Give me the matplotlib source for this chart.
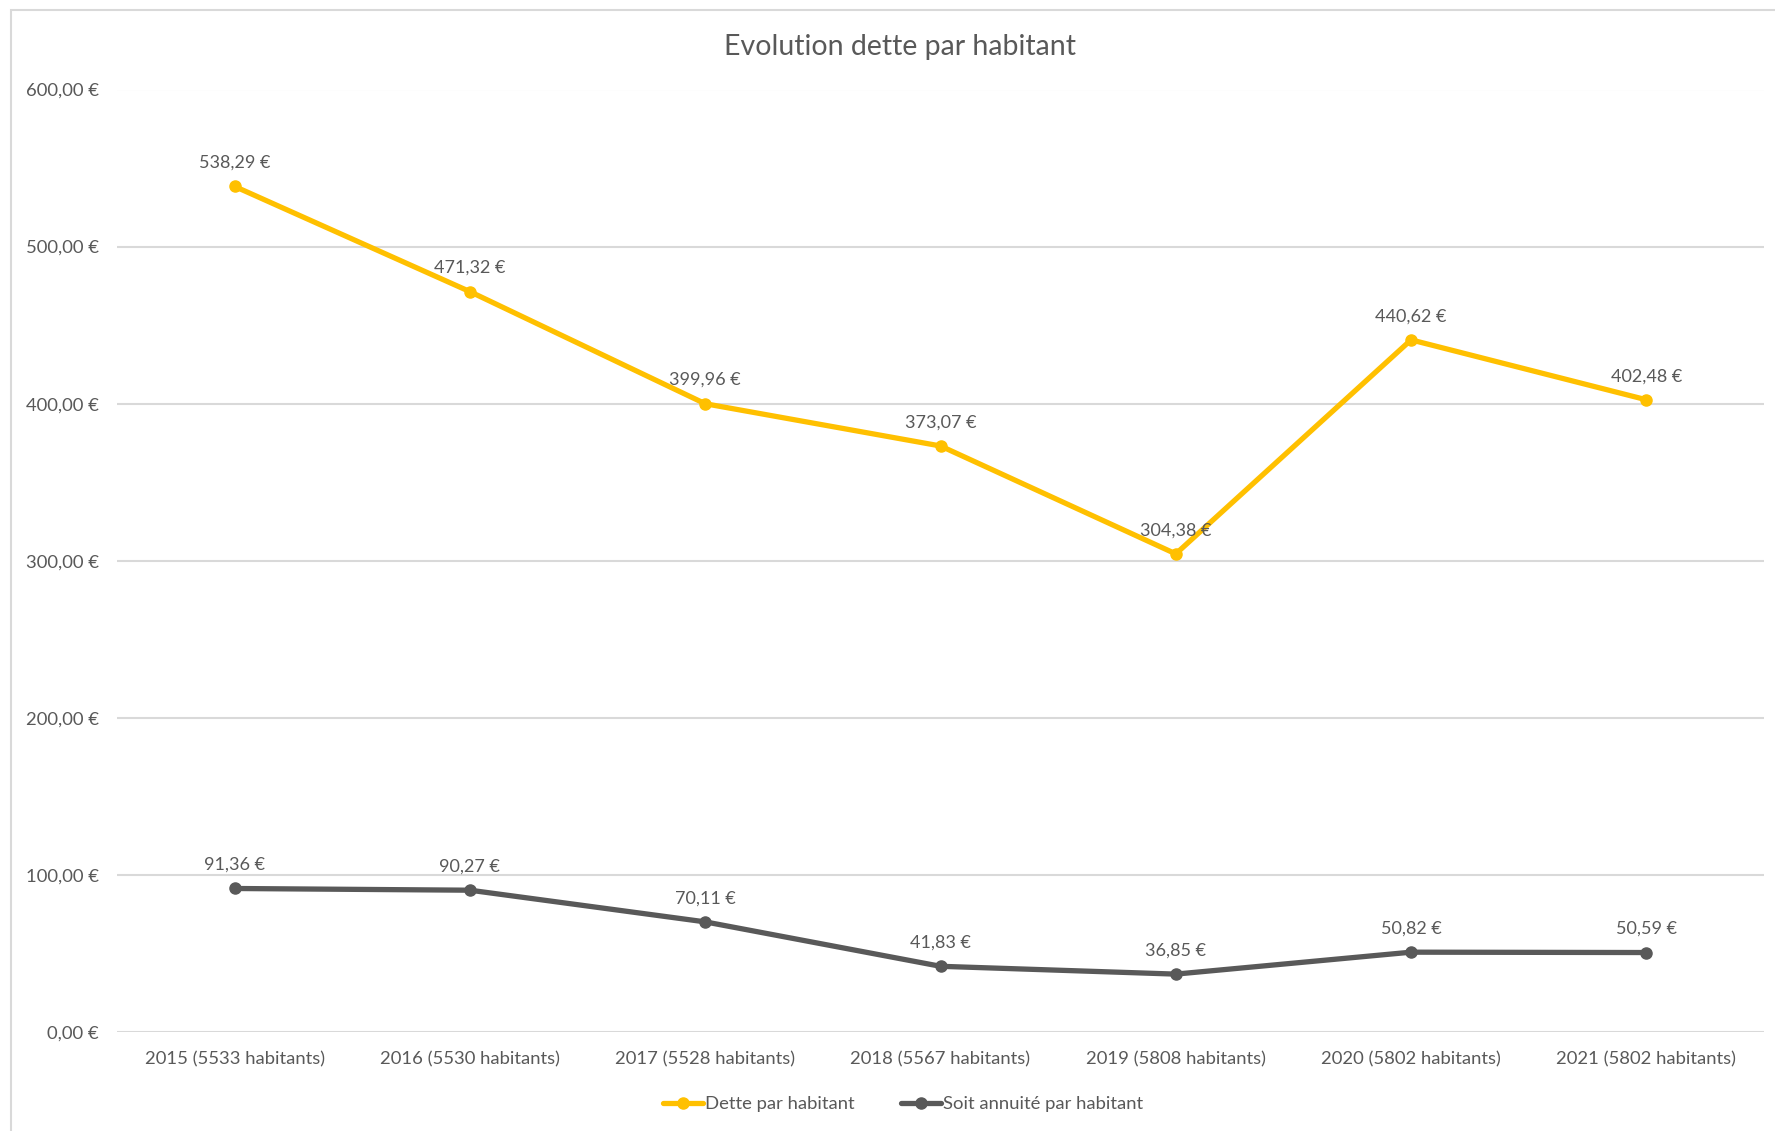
import matplotlib.pyplot as plt
from matplotlib.patches import Rectangle
from matplotlib.ticker import FuncFormatter

categories = [
    "2015 (5533 habitants)", "2016 (5530 habitants)", "2017 (5528 habitants)",
    "2018 (5567 habitants)", "2019 (5808 habitants)", "2020 (5802 habitants)",
    "2021 (5802 habitants)",
]
dette = [538.29, 471.32, 399.96, 373.07, 304.38, 440.62, 402.48]
annuite = [91.36, 90.27, 70.11, 41.83, 36.85, 50.82, 50.59]

YELLOW = "#FFC000"
GREY = "#595959"
TEXT = "#595959"
GRID = "#D9D9D9"

plt.rcParams['font.family'] = ['Lato', 'DejaVu Sans']


def euro(v):
    return f"{v:,.2f}".replace(",", " ").replace(".", ",") + " €"


fig = plt.figure(figsize=(17.75, 11.31), dpi=100)
# chart frame (cut off on the right and bottom like the screenshot)
fig.patches.append(Rectangle((11 / 1775, -0.05), 1.2, 1.05 - 9.5 / 1131,
                             transform=fig.transFigure, fill=False,
                             edgecolor=GRID, linewidth=1.5))

ax = fig.add_axes([117 / 1775, 1 - 1032 / 1131, (1764 - 117) / 1775, (1032 - 89.5) / 1131])
x = list(range(len(categories)))

ax.plot(x, dette, color=YELLOW, lw=3.8, marker="o", ms=8, label="Dette par habitant",
        solid_capstyle="round", zorder=3)
ax.plot(x, annuite, color=GREY, lw=3.8, marker="o", ms=8, label="Soit annuité par habitant",
        solid_capstyle="round", zorder=3)

for xi, v in zip(x, dette):
    ax.annotate(euro(v), (xi, v), xytext=(0, 17), textcoords="offset points",
                ha="center", va="center", fontsize=13, color=TEXT)
for xi, v in zip(x, annuite):
    ax.annotate(euro(v), (xi, v), xytext=(0, 17), textcoords="offset points",
                ha="center", va="center", fontsize=13, color=TEXT)

ax.set_xlim(-0.5, len(categories) - 0.5)
ax.set_ylim(0, 600)
ax.set_yticks(range(0, 601, 100))
ax.yaxis.set_major_formatter(FuncFormatter(lambda v, p: euro(v)))
ax.set_xticks(x)
ax.set_xticklabels(categories)
ax.tick_params(axis="both", length=0, labelsize=13.3, labelcolor=TEXT)
ax.tick_params(axis="y", pad=13)
ax.tick_params(axis="x", pad=14)
ax.grid(axis="y", color=GRID, lw=1.5)
ax.set_axisbelow(True)
for s in ax.spines.values():
    s.set_visible(False)

fig.text(900 / 1775, 1 - 47 / 1131, "Evolution dette par habitant", ha="center", va="center",
         fontsize=20.5, color=TEXT)

fig.legend(loc="center", bbox_to_anchor=(903 / 1775, 1 - 1104 / 1131), ncol=2, frameon=False,
           fontsize=13.3, labelcolor=TEXT, handlelength=2.2, handletextpad=0.1, columnspacing=2.5)

fig.savefig("out.png", dpi=100)
